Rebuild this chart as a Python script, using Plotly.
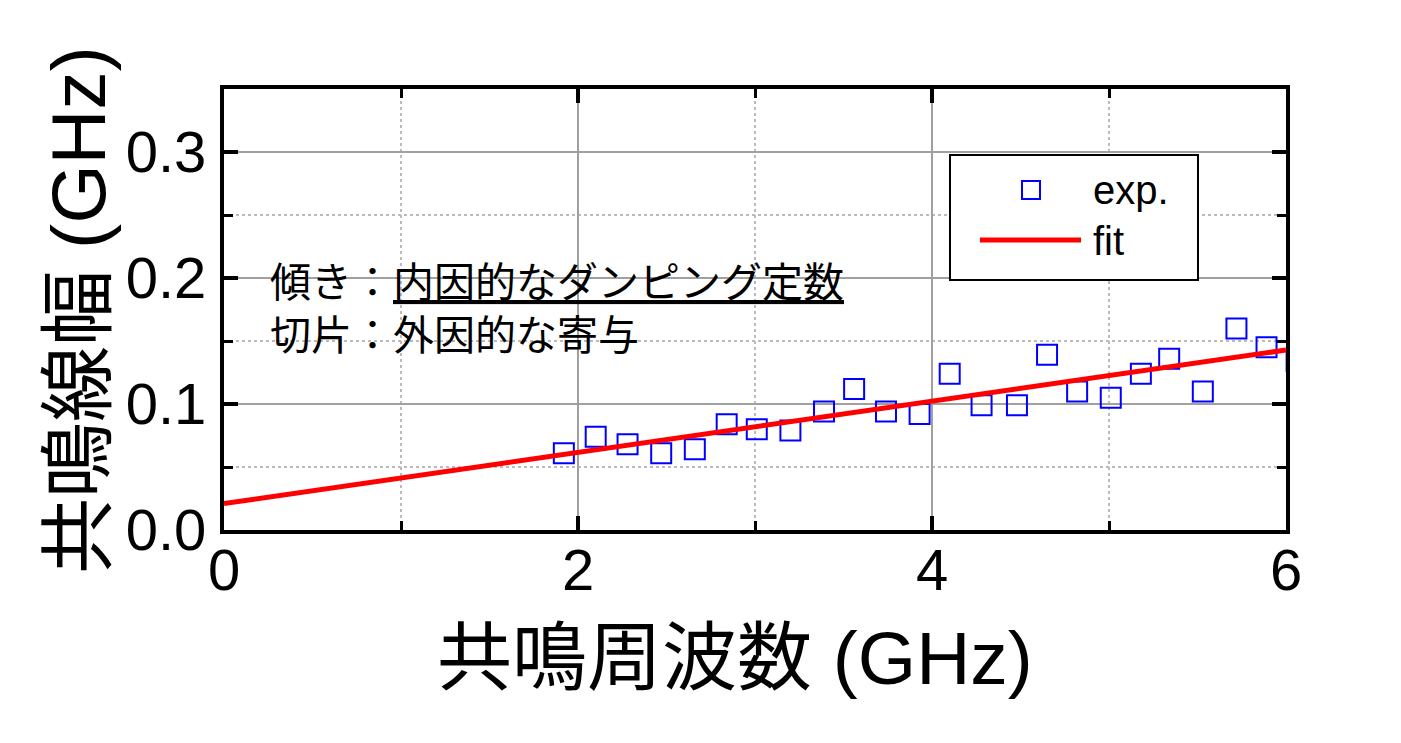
import plotly.graph_objects as go

# ---- data ----
exp_freq = [1.92, 2.10, 2.28, 2.47, 2.66, 2.84, 3.01, 3.20, 3.39, 3.56, 3.74, 3.93,
            4.10, 4.28, 4.48, 4.65, 4.82, 5.01, 5.18, 5.34, 5.53, 5.72, 5.89, 6.06]
exp_width = [0.061, 0.074, 0.068, 0.061, 0.064, 0.084, 0.080, 0.079, 0.094, 0.112, 0.094, 0.092,
             0.124, 0.099, 0.099, 0.139, 0.110, 0.105, 0.124, 0.136, 0.110, 0.160, 0.145, 0.134]
fit_intercept = 0.021
fit_slope = 0.0203
fit_freq = [0.0, 6.0]
fit_width = [fit_intercept + fit_slope * f for f in fit_freq]

x_ticks = [0, 2, 4, 6]
y_ticks = [0.0, 0.1, 0.2, 0.3]

FONT = "Liberation Sans, Arial, Noto Sans CJK JP"
CJK = "Noto Sans CJK JP, Liberation Sans"

fig = go.Figure()
fig.add_trace(go.Scatter(
    x=exp_freq, y=exp_width, mode="markers", name="exp.",
    marker=dict(symbol="square-open", size=20, color="#0000FF",
                line=dict(width=2, color="#0000FF")),
    showlegend=False,
))
fig.add_trace(go.Scatter(
    x=fit_freq, y=fit_width, mode="lines", name="fit",
    line=dict(color="#FF0000", width=5), showlegend=False,
))

# plot-area geometry in page pixels (page body has an 8px margin)
OFF = 8
L, R, T, B = 224, 1286, 89, 530
W, H = R - L, B - T
def px(x): return (x - L) / W
def py(y): return (B - y) / H

axis_common = dict(
    showline=True, linewidth=4, linecolor="black", mirror="ticks",
    ticks="inside", ticklen=14, tickwidth=4, tickcolor="black",
    showgrid=True, gridcolor="#A0A0A0", gridwidth=1.5,
    zeroline=False,
    tickfont=dict(family=FONT, size=58, color="black"),
)

fig.update_xaxes(
    range=[0, 6], tickvals=x_ticks, ticktext=[str(v) for v in x_ticks],
    ticklabelstandoff=-14,
    minor=dict(dtick=1, ticks="inside", ticklen=9, tickwidth=3, tickcolor="black",
               showgrid=True, gridcolor="#BBBBBB", gridwidth=2, griddash="dot"),
    **axis_common,
)
fig.update_yaxes(
    range=[0, 0.35], tickvals=y_ticks, ticktext=[f"{v:.1f}" for v in y_ticks],
    ticklabelstandoff=2,
    minor=dict(dtick=0.05, ticks="inside", ticklen=9, tickwidth=3, tickcolor="black",
               showgrid=True, gridcolor="#BBBBBB", gridwidth=2, griddash="dot"),
    **axis_common,
)

shapes = [
    # legend box
    dict(type="rect", xref="paper", yref="paper",
         x0=px(950), x1=px(1198), y0=py(280), y1=py(155),
         line=dict(color="black", width=2), fillcolor="white", layer="above"),
    # legend sample: exp.
    dict(type="rect", xref="paper", yref="paper",
         x0=px(1022), x1=px(1040), y0=py(199), y1=py(181),
         line=dict(color="#0000FF", width=2), fillcolor="rgba(0,0,0,0)", layer="above"),
    # legend sample: fit
    dict(type="line", xref="paper", yref="paper",
         x0=px(980), x1=px(1081), y0=py(240), y1=py(240),
         line=dict(color="#FF0000", width=5), layer="above"),
]

annotations = [
    dict(text="exp.", xref="paper", yref="paper", x=px(1091), y=py(190),
         xanchor="left", yanchor="middle", showarrow=False,
         font=dict(family=FONT, size=40, color="black")),
    dict(text="fit", xref="paper", yref="paper", x=px(1091), y=py(241),
         xanchor="left", yanchor="middle", showarrow=False,
         font=dict(family=FONT, size=40, color="black")),
    dict(text="傾き：<u>内因的なダンピング定数</u><br>切片：外因的な寄与",
         xref="paper", yref="paper", x=px(268), y=py(305),
         xanchor="left", yanchor="middle", align="left", showarrow=False,
         font=dict(family=CJK, size=41, color="black")),
    # axis titles
    dict(text="共鳴周波数 (GHz)", xref="paper", yref="paper", x=px(735), y=py(658),
         xanchor="center", yanchor="middle", showarrow=False,
         font=dict(family=FONT, size=75, color="black")),
    dict(text="共鳴線幅 (GHz)", xref="paper", yref="paper", x=px(78), y=py(310),
         xanchor="center", yanchor="middle", showarrow=False, textangle=-90,
         font=dict(family=FONT, size=76, color="black")),
]

fig.update_layout(
    width=1401, height=743,
    margin=dict(l=L - OFF, r=1401 + OFF - R, t=T - OFF, b=743 + OFF - B, pad=0, autoexpand=False),
    paper_bgcolor="white", plot_bgcolor="white",
    shapes=shapes, annotations=annotations,
    showlegend=False,
    font=dict(family=FONT, color="black"),
)

fig.write_html("out.html")
